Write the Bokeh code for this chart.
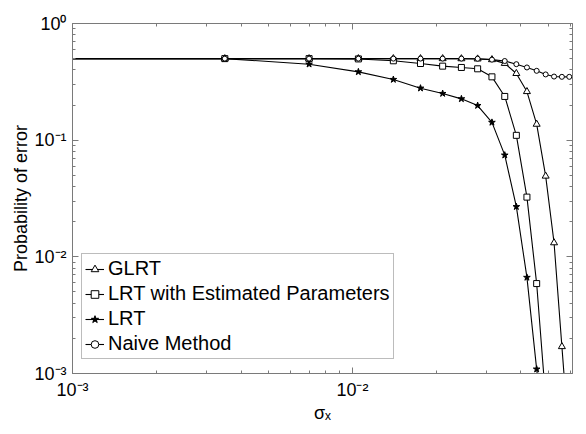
from bokeh.plotting import figure
from bokeh.models import FixedTicker, LogAxis, Legend, LegendItem
from bokeh.embed import file_html
from bokeh.resources import INLINE

# ---- data ----
sigma = [0.0005, 0.0035, 0.007, 0.0105, 0.014, 0.0175, 0.021, 0.0245, 0.028,
         0.0315, 0.035, 0.0385, 0.042, 0.0455, 0.049, 0.0525, 0.056, 0.0595]
glrt = [0.5, 0.5, 0.5, 0.5, 0.5, 0.5, 0.5, 0.499, 0.497, 0.49, 0.455, 0.373,
        0.261, 0.137, 0.0492, 0.0132, 0.0017, 0.00025]
lrt_est = [0.5, 0.5, 0.5, 0.497, 0.479, 0.454, 0.431, 0.42, 0.409, 0.349, 0.237,
           0.110, 0.0325, 0.0059, 0.0006]
lrt = [0.5, 0.5, 0.448, 0.385, 0.331, 0.279, 0.251, 0.226, 0.198, 0.142, 0.0744,
       0.0269, 0.00666, 0.00109, 0.00025]
naive = [0.5, 0.5, 0.5, 0.5, 0.5, 0.5, 0.5, 0.5, 0.499, 0.49, 0.477, 0.448, 0.42,
         0.393, 0.366, 0.351, 0.349, 0.349]

series_names = ["GLRT", "LRT with Estimated Parameters", "LRT", "Naive Method"]
x_major = [0.001, 0.01]
x_minor = [0.002, 0.003, 0.004, 0.005, 0.006, 0.007, 0.008, 0.009,
           0.02, 0.03, 0.04, 0.05, 0.06]
y_major = [0.001, 0.01, 0.1, 1.0]
y_minor = [m * d for d in (0.001, 0.01, 0.1) for m in (2, 3, 4, 5, 6, 7, 8, 9)]
x_labels = {0.001: "10\u207b\u00b3", 0.01: "10\u207b\u00b2"}
y_labels = {0.001: "10\u207b\u00b3", 0.01: "10\u207b\u00b2", 0.1: "10\u207b\u00b9", 1.0: "10\u2070"}

FONT = "Liberation Sans"
AXC = "#7a7a7a"

p = figure(frame_width=500, frame_height=350, x_axis_type="log", y_axis_type="log",
           x_range=(0.001, 0.0611), y_range=(0.001, 1.0),
           output_backend="svg", toolbar_location=None,
           min_border_left=72, min_border_right=3, min_border_top=23, min_border_bottom=44)
p.background_fill_color = "white"
p.border_fill_color = "white"
p.outline_line_color = AXC
p.xgrid.visible = False
p.ygrid.visible = False

def style_axis(ax, ticks, minor, labels):
    ax.ticker = FixedTicker(ticks=ticks, minor_ticks=minor)
    ax.axis_line_color = AXC
    ax.major_tick_line_color = AXC
    ax.minor_tick_line_color = AXC
    ax.major_tick_in = 6
    ax.major_tick_out = 0
    ax.minor_tick_in = 3
    ax.minor_tick_out = 0
    if labels is None:
        ax.major_label_text_font_size = "0px"
        ax.major_label_standoff = 0
        ax.major_label_overrides = {t: "" for t in ticks}
    else:
        ax.major_label_overrides = labels
        ax.major_label_text_font = FONT
        ax.major_label_text_font_size = "18px"
        ax.major_label_text_color = "black"

style_axis(p.xaxis[0], x_major, x_minor, x_labels)
style_axis(p.yaxis[0], y_major, y_minor, y_labels)
p.xaxis.major_label_standoff = 6
p.yaxis.major_label_standoff = 6
p.xaxis.axis_label = "\u03c3\u2093"
p.yaxis.axis_label = "Probability of error"
for ax in (p.xaxis[0], p.yaxis[0]):
    ax.axis_label_text_font = FONT
    ax.axis_label_text_font_size = "18px"
    ax.axis_label_text_font_style = "normal"
    ax.axis_label_text_color = "black"
p.xaxis.axis_label_standoff = 0
p.yaxis.axis_label_standoff = 0

top = LogAxis()
style_axis(top, x_major, x_minor, None)
right = LogAxis()
style_axis(right, y_major, y_minor, None)
p.add_layout(top, "above")
p.add_layout(right, "right")

items = []
specs = [
    (glrt, "triangle", 7, "white"),
    (lrt_est, "square", 6, "white"),
    (lrt, "star", 7, "black"),
    (naive, "circle", 5, "white"),
]
for name, (ys, mk, sz, fc) in zip(series_names, specs):
    xs = sigma[:len(ys)]
    r1 = p.line(xs, ys, line_color="black", line_width=1.1)
    r2 = p.scatter(xs, ys, marker=mk, size=sz, line_color="black", fill_color=fc, line_width=1)
    items.append(LegendItem(label=name, renderers=[r1, r2]))

legend = Legend(items=items, location=(9, 14))
legend.label_text_font = FONT
legend.label_text_font_size = "20px"
legend.label_text_color = "black"
legend.glyph_width = 19
legend.glyph_height = 22
legend.label_height = 22
legend.label_standoff = 4
legend.spacing = 2
legend.padding = 3
legend.margin = 0
legend.border_line_color = AXC
legend.border_line_width = 1
legend.background_fill_alpha = 1
p.add_layout(legend, "center")

open("out.html", "w").write(file_html(p, INLINE))
